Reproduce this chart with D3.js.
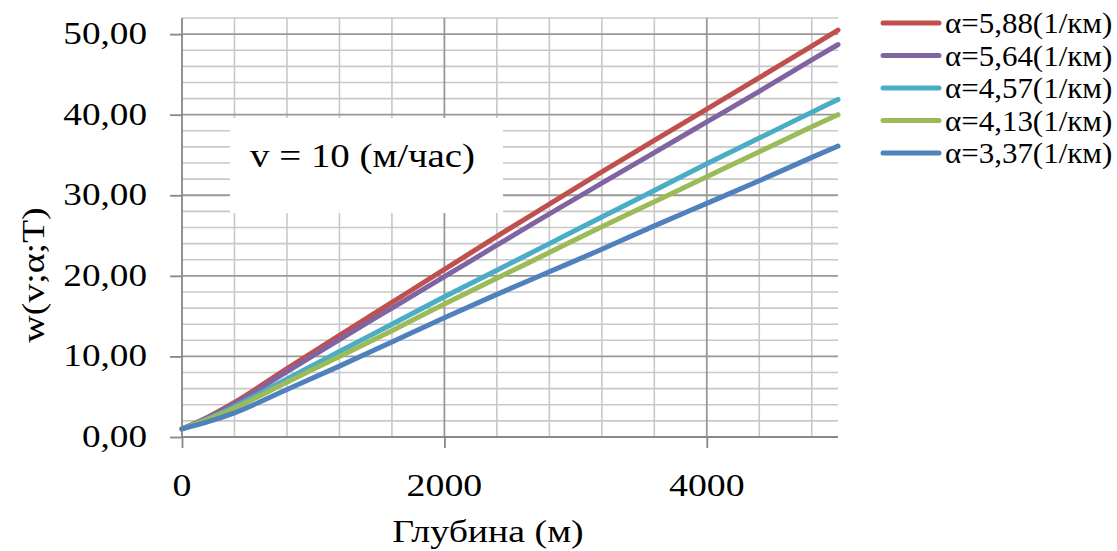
<!DOCTYPE html>
<html>
<head>
<meta charset="utf-8">
<script src="https://cdn.jsdelivr.net/npm/d3@7"></script>
<style>
  body { margin: 0; background: #fff; }
  text { font-family: "Liberation Serif", "Times New Roman", serif; fill: #000; }
</style>
</head>
<body>
<div id="idChart"></div>
<script>
// depth points (m)
var aDepth = [0, 200, 400, 800, 1200, 1600, 2000, 2400, 2800, 3200, 3600, 4000, 4400, 4800, 5000];

// w(v;a;T) for each alpha
var aRed    = [1.0, 2.5, 4.3, 8.5, 12.6, 16.7, 20.8, 24.9, 28.9, 32.9, 36.8, 40.7, 44.6, 48.5, 50.5];
var aPurple = [1.0, 2.4, 4.1, 8.1, 12.1, 16.0, 19.9, 23.8, 27.7, 31.5, 35.3, 39.1, 42.9, 46.8, 48.7];
var aCyan   = [1.0, 2.3, 3.8, 7.2, 10.6, 14.0, 17.4, 20.7, 24.0, 27.3, 30.6, 33.9, 37.1, 40.3, 41.9];
var aGreen  = [1.0, 2.2, 3.6, 6.8, 10.0, 13.2, 16.5, 19.7, 22.9, 26.1, 29.2, 32.3, 35.4, 38.5, 40.0];
var aBlue   = [1.0, 1.9, 3.0, 5.9, 8.8, 11.8, 14.8, 17.7, 20.5, 23.3, 26.2, 29.0, 31.8, 34.7, 36.1];

var aSeriesNames = ["α=5,88(1/км)", "α=5,64(1/км)", "α=4,57(1/км)", "α=4,13(1/км)", "α=3,37(1/км)"];
var aSeriesValues = [aRed, aPurple, aCyan, aGreen, aBlue];
var aSeriesColors = ["#C0504D", "#8064A2", "#4BACC6", "#9BBB59", "#4F81BD"];

var aXTicks = [0, 2000, 4000];
var aYTicks = [0, 10, 20, 30, 40, 50];

var iWidth = 1117, iHeight = 551;
var iLeft = 182, iRight = 838, iTop = 18, iBottom = 437;

var mySvg = d3.select("#idChart").append("svg")
	.attr("width", iWidth)
	.attr("height", iHeight);

var xScale = d3.scaleLinear().domain([0, 5000]).range([iLeft, iRight]);
var yScale = d3.scaleLinear().domain([0, 52]).range([iBottom, iTop]);

// minor grid
var myGrid = mySvg.append("g");
myGrid.selectAll(".minorX")
	.data(d3.range(400, 5000, 400).filter(function(d){ return d % 2000 != 0; }))
	.enter().append("line")
	.attr("x1", function(d){ return xScale(d); })
	.attr("x2", function(d){ return xScale(d); })
	.attr("y1", iTop).attr("y2", iBottom)
	.attr("stroke", "#c8c8c8").attr("stroke-width", 1.6);
myGrid.selectAll(".minorY")
	.data(d3.range(2, 53, 2).filter(function(d){ return d % 10 != 0; }))
	.enter().append("line")
	.attr("x1", iLeft).attr("x2", iRight)
	.attr("y1", function(d){ return yScale(d); })
	.attr("y2", function(d){ return yScale(d); })
	.attr("stroke", "#c8c8c8").attr("stroke-width", 1.6);

// major grid
myGrid.selectAll(".majorX")
	.data(aXTicks.filter(function(d){ return d > 0; }))
	.enter().append("line")
	.attr("x1", function(d){ return xScale(d); })
	.attr("x2", function(d){ return xScale(d); })
	.attr("y1", iTop).attr("y2", iBottom)
	.attr("stroke", "#989898").attr("stroke-width", 1.8);
myGrid.selectAll(".majorY")
	.data(aYTicks.filter(function(d){ return d > 0; }))
	.enter().append("line")
	.attr("x1", iLeft).attr("x2", iRight)
	.attr("y1", function(d){ return yScale(d); })
	.attr("y2", function(d){ return yScale(d); })
	.attr("stroke", "#989898").attr("stroke-width", 1.8);

// text box on the grid
mySvg.append("rect")
	.attr("x", 230).attr("y", 118).attr("width", 273).attr("height", 95)
	.attr("fill", "#fff");
mySvg.append("text")
	.attr("transform", "translate(250,167) scale(1.18,1)")
	.attr("font-size", 33)
	.text("v = 10 (м/час)");

// axes
var fmtY = function(d){ return d3.format(".2f")(d).replace(".", ","); };

var gX = mySvg.append("g")
	.attr("transform", "translate(0," + iBottom + ")")
	.call(d3.axisBottom(xScale).tickValues(aXTicks).tickSize(11).tickFormat(""));
var gY = mySvg.append("g")
	.attr("transform", "translate(" + iLeft + ",0)")
	.call(d3.axisLeft(yScale).tickValues(aYTicks).tickSize(12).tickFormat(""));
[gX, gY].forEach(function(g){
	g.select(".domain").attr("stroke", "#888").attr("stroke-width", 1.8);
	g.selectAll(".tick line").attr("stroke", "#888").attr("stroke-width", 1.8);
});
gY.select(".domain").attr("d", "M0," + iBottom + "V" + iTop);
gX.select(".domain").attr("d", "M" + iLeft + ",0H" + iRight);

// tick labels
mySvg.selectAll(".yLab")
	.data(aYTicks)
	.enter().append("text")
	.attr("transform", function(d){ return "translate(147," + (yScale(d) + 10) + ") scale(1.2,1)"; })
	.attr("text-anchor", "end")
	.attr("font-size", 31)
	.text(fmtY);
mySvg.selectAll(".xLab")
	.data(aXTicks)
	.enter().append("text")
	.attr("transform", function(d){ return "translate(" + xScale(d) + ",496) scale(1.22,1)"; })
	.attr("text-anchor", "middle")
	.attr("font-size", 31)
	.text(function(d){ return d; });

// axis titles
mySvg.append("text")
	.attr("transform", "translate(488,542) scale(1.22,1)")
	.attr("text-anchor", "middle")
	.attr("font-size", 31)
	.text("Глубина (м)");
mySvg.append("text")
	.attr("transform", "translate(44,275) rotate(-90) scale(1.22,1)")
	.attr("text-anchor", "middle")
	.attr("font-size", 31)
	.text("w(v;α;T)");

// series
var myLine = d3.line()
	.x(function(d){ return xScale(d[0]); })
	.y(function(d){ return yScale(d[1]); })
	.curve(d3.curveMonotoneX);

mySvg.append("g").selectAll("path")
	.data(aSeriesValues)
	.enter().append("path")
	.attr("d", function(aVals){ return myLine(aDepth.map(function(x, i){ return [x, aVals[i]]; })); })
	.attr("fill", "none")
	.attr("stroke", function(d, i){ return aSeriesColors[i]; })
	.attr("stroke-width", 5)
	.attr("stroke-linecap", "round")
	.attr("stroke-linejoin", "round");

// legend
var myLegend = mySvg.append("g").selectAll("g")
	.data(aSeriesNames)
	.enter().append("g")
	.attr("transform", function(d, i){ return "translate(883," + (23 + i * 32.5) + ")"; });
myLegend.append("line")
	.attr("x1", 0).attr("x2", 56)
	.attr("stroke", function(d, i){ return aSeriesColors[i]; })
	.attr("stroke-width", 5)
	.attr("stroke-linecap", "round");
myLegend.append("text")
	.attr("transform", "translate(62,10) scale(1.05,1)")
	.attr("font-size", 29.5)
	.text(function(d){ return d; });
</script>
</body>
</html>
